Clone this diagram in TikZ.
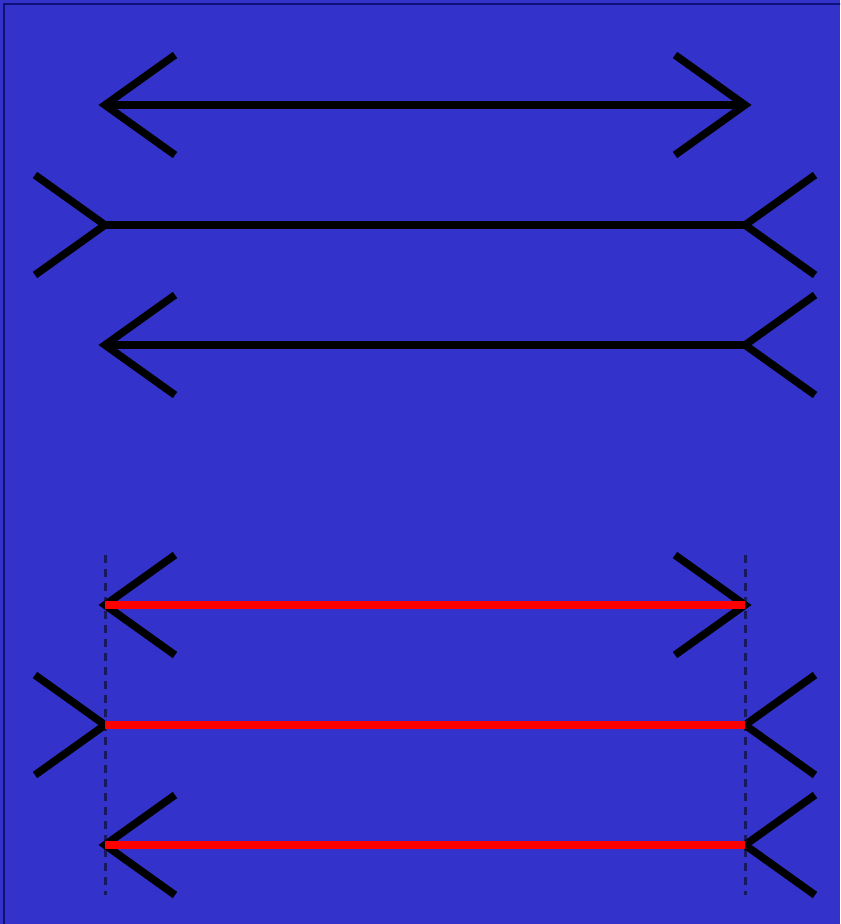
\documentclass[tikz,border=0pt]{standalone}
\usepackage{tikz}
\definecolor{illusionblue}{RGB}{51,51,204}
\definecolor{frameblue}{RGB}{15,15,120}
\definecolor{guidenavy}{RGB}{25,25,95}
\tikzset{
  shaft/.style={line width=3.8pt},
  redshaft/.style={line width=3.6pt, red},
  fin/.style={line width=3.8pt, miter limit=10},
  guide/.style={line width=1.5pt, guidenavy, dash pattern=on 4pt off 3pt}
}
\begin{document}
\begin{tikzpicture}[x=0.5pt, y=-0.5pt]
\clip (0,0) rectangle (840,924);
\fill[illusionblue] (0,0) rectangle (840,924);
\draw[frameblue, line width=1.2pt] (4,930) -- (4,4) -- (846,4);
% end points of the six lines
\foreach \r/\y in {a/105, b/225, c/345, d/605, e/725, f/845} {
  \coordinate (\r L) at (105,\y);
  \coordinate (\r R) at (745,\y);
}
\coordinate (gLtop) at (105,555);
\coordinate (gLbot) at (105,895);
\coordinate (gRtop) at (745,555);
\coordinate (gRbot) at (745,895);
% dashed guides
\draw[guide] (gLtop) -- (gLbot);
\draw[guide] (gRtop) -- (gRbot);
% black shafts
\foreach \r in {a,b,c} \draw[shaft] (\r L) -- (\r R);
% fins pointing in
\foreach \r in {a,c,d,f} \draw[fin] ([shift={(70,-50)}]\r L) -- (\r L) -- ([shift={(70,50)}]\r L);
\foreach \r in {a,d} \draw[fin] ([shift={(-70,-50)}]\r R) -- (\r R) -- ([shift={(-70,50)}]\r R);
% fins pointing out
\foreach \r in {b,e} \draw[fin] ([shift={(-70,-50)}]\r L) -- (\r L) -- ([shift={(-70,50)}]\r L);
\foreach \r in {b,c,e,f} \draw[fin] ([shift={(70,-50)}]\r R) -- (\r R) -- ([shift={(70,50)}]\r R);
% red shafts
\foreach \r in {d,e,f} \draw[redshaft] (\r L) -- (\r R);
\end{tikzpicture}
\end{document}
